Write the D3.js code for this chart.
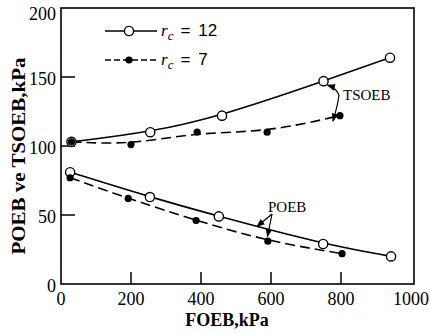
<!DOCTYPE html>
<html>
<head>
<meta charset="utf-8">
<script src="https://cdn.jsdelivr.net/npm/d3@7"></script>
<style>
  body { margin: 0; background: #fff; }
  svg { display: block; }
</style>
</head>
<body>
<script>
// Data (FOEB kPa -> POEB / TSOEB kPa)
const tsoeb12x = [30, 255, 460, 750, 940];
const tsoeb12y = [103, 110, 122, 147, 164];
const tsoeb7x = [30, 200, 389, 589, 797];
const tsoeb7y = [103, 101, 110, 110, 122];
const poeb12x = [26, 254, 451, 749, 943];
const poeb12y = [81, 63, 49, 29, 20];
const poeb7x = [26, 192, 386, 591, 803];
const poeb7y = [77, 62, 46, 31, 22];
const xTicks = [0, 200, 400, 600, 800, 1000];
const yTicks = [0, 50, 100, 150, 200];
const legendLabels = ["12", "7"];

const width = 430, height = 334;
const plotLeft = 61, plotRight = 411, plotTop = 8, plotBottom = 284;
const serif = "'Liberation Serif', 'DejaVu Serif', serif";

const x = d3.scaleLinear().domain([0, 1000]).range([plotLeft, plotRight]);
const y = d3.scaleLinear().domain([0, 200]).range([plotBottom, plotTop]);

const svg = d3.select("body").append("svg")
  .attr("width", width)
  .attr("height", height);

// arrowhead
svg.append("defs").append("marker")
  .attr("id", "arr")
  .attr("viewBox", "0 0 10 10")
  .attr("refX", 9).attr("refY", 5)
  .attr("markerWidth", 7).attr("markerHeight", 7)
  .attr("orient", "auto")
  .append("path").attr("d", "M0,1L10,5L0,9z").attr("fill", "#000");

// frame
svg.append("rect")
  .attr("x", plotLeft).attr("y", plotTop)
  .attr("width", 414 - plotLeft).attr("height", plotBottom - plotTop)
  .attr("fill", "none").attr("stroke", "#000").attr("stroke-width", 1.6);

// inward tick marks (skip the ones that sit on the frame corners)
svg.append("g")
  .selectAll("line")
  .data(xTicks.filter(d => d > 0 && d < 1000))
  .join("line")
  .attr("x1", d => x(d)).attr("x2", d => x(d))
  .attr("y1", plotBottom).attr("y2", plotBottom - 12)
  .attr("stroke", "#000").attr("stroke-width", 1.5);

svg.append("g")
  .selectAll("line")
  .data(yTicks.filter(d => d > 0 && d < 200))
  .join("line")
  .attr("x1", plotLeft).attr("x2", plotLeft + 14)
  .attr("y1", d => y(d)).attr("y2", d => y(d))
  .attr("stroke", "#000").attr("stroke-width", 1.5);

// tick labels
svg.append("g")
  .selectAll("text")
  .data(xTicks)
  .join("text")
  .attr("x", d => x(d))
  .attr("y", 305)
  .attr("text-anchor", "middle")
  .style("font", `18px ${serif}`)
  .text(d => d);

svg.append("g")
  .selectAll("text")
  .data(yTicks)
  .join("text")
  .attr("x", 56)
  .attr("y", d => Math.max(y(d) + 2, 14))
  .attr("dy", "0.35em")
  .attr("text-anchor", "end")
  .style("font", `18px ${serif}`)
  .text(d => d);

// axis titles
svg.append("text")
  .attr("x", 227).attr("y", 326)
  .attr("text-anchor", "middle")
  .style("font", `bold 18px ${serif}`)
  .text("FOEB,kPa");

svg.append("text")
  .attr("transform", "translate(25,156) rotate(-90)")
  .attr("text-anchor", "middle")
  .attr("textLength", 197)
  .attr("lengthAdjust", "spacingAndGlyphs")
  .style("font", `bold 18px ${serif}`)
  .text("POEB ve TSOEB,kPa");

// series
const zip = (xs, ys) => xs.map((v, i) => [v, ys[i]]);
const series = [
  { pts: zip(tsoeb12x, tsoeb12y), open: true },
  { pts: zip(tsoeb7x, tsoeb7y), open: false },
  { pts: zip(poeb12x, poeb12y), open: true },
  { pts: zip(poeb7x, poeb7y), open: false }
];

const line = d3.line()
  .x(d => x(d[0]))
  .y(d => y(d[1]))
  .curve(d3.curveBasis);

svg.append("g")
  .selectAll("path")
  .data(series)
  .join("path")
  .attr("d", d => line(d.pts))
  .attr("fill", "none")
  .attr("stroke", "#000")
  .attr("stroke-width", 1.6)
  .attr("stroke-dasharray", d => d.open ? null : "10,5");

series.forEach(s => {
  svg.append("g")
    .selectAll("circle")
    .data(s.pts)
    .join("circle")
    .attr("cx", d => x(d[0]))
    .attr("cy", d => y(d[1]))
    .attr("r", s.open ? 4.6 : 3.6)
    .attr("fill", s.open ? "#fff" : "#000")
    .attr("stroke", "#000")
    .attr("stroke-width", s.open ? 1.4 : 0);
});

// legend
const legend = svg.append("g");
legendLabels.forEach((lab, i) => {
  const ly = 31 + i * 29;
  legend.append("line")
    .attr("x1", 105).attr("x2", 157)
    .attr("y1", ly).attr("y2", ly)
    .attr("stroke", "#000").attr("stroke-width", 1.6)
    .attr("stroke-dasharray", i === 0 ? null : "6,3");
  legend.append("circle")
    .attr("cx", 129).attr("cy", ly)
    .attr("r", i === 0 ? 4.6 : 3.6)
    .attr("fill", i === 0 ? "#fff" : "#000")
    .attr("stroke", "#000").attr("stroke-width", i === 0 ? 1.4 : 0);
  const t = legend.append("text")
    .attr("x", 161).attr("y", ly + 5)
    .style("font", "17px 'Liberation Sans', sans-serif");
  t.append("tspan").style("font-style", "italic").style("font-family", serif).text("r");
  t.append("tspan").attr("dy", 4).style("font-style", "italic").style("font-size", "13px")
    .style("font-family", serif).text("c");
  t.append("tspan").attr("dy", -4).attr("dx", 7).text("=");
  t.append("tspan").attr("dx", 8).text(lab);
});

// annotations
const ann = svg.append("g").style("font", `15px ${serif}`);
ann.append("text").attr("x", 343).attr("y", 100).text("TSOEB");
ann.append("path")
  .attr("d", `M339,95 Q336,88 ${x(tsoeb12x[3]) + 4},${y(tsoeb12y[3]) + 4}`)
  .attr("fill", "none").attr("stroke", "#000").attr("stroke-width", 1.2)
  .attr("marker-end", "url(#arr)");
ann.append("path")
  .attr("d", `M339,95 Q338,104 333,${y(118)}`)
  .attr("fill", "none").attr("stroke", "#000").attr("stroke-width", 1.2)
  .attr("marker-end", "url(#arr)");

ann.append("text").attr("x", 268).attr("y", 212).text("POEB");
ann.append("path")
  .attr("d", `M272,214 L${x(560)},${y(41) - 1}`)
  .attr("fill", "none").attr("stroke", "#000").attr("stroke-width", 1.2)
  .attr("marker-end", "url(#arr)");
ann.append("path")
  .attr("d", `M272,214 L${x(590)},${y(33) - 2}`)
  .attr("fill", "none").attr("stroke", "#000").attr("stroke-width", 1.2)
  .attr("marker-end", "url(#arr)");
</script>
</body>
</html>
